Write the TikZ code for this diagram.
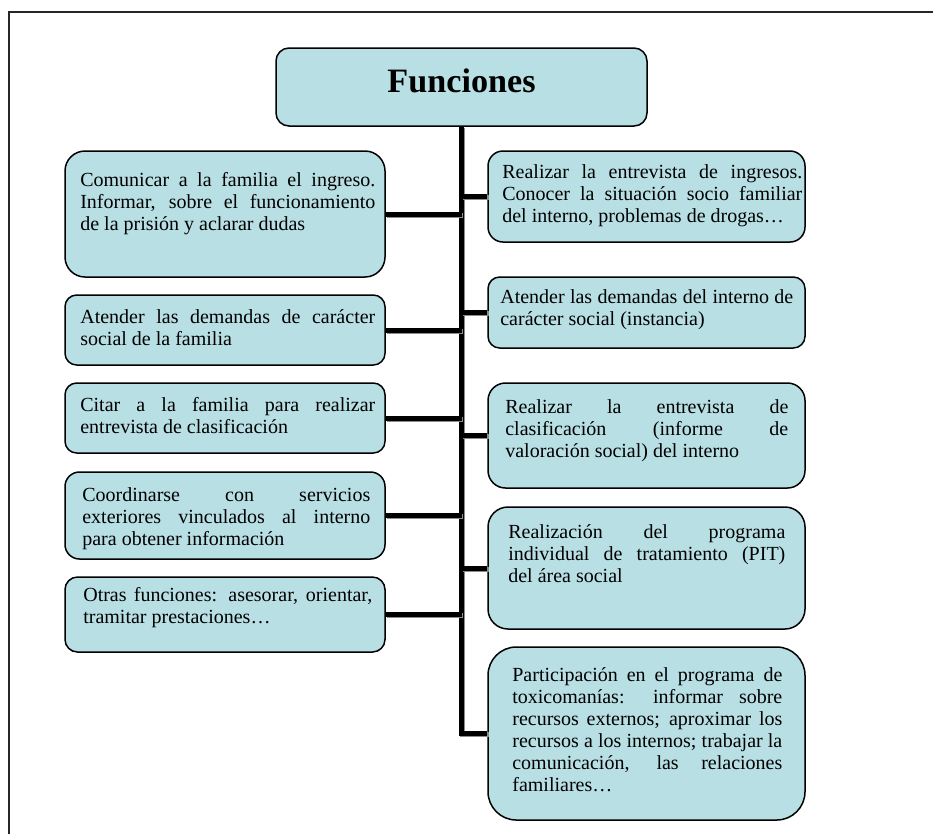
\documentclass[tikz,border=0pt]{standalone}
\usepackage{fontspec}
\setmainfont{Liberation Serif}
\usetikzlibrary{fit}
\definecolor{boxfill}{RGB}{184,223,228}
\newcommand{\nohy}{\hyphenpenalty=10000 \exhyphenpenalty=10000 }
\begin{document}
\begin{tikzpicture}[x=0.6pt,y=-0.6pt,
  box/.style={draw=black, line width=0.9pt, fill=boxfill, inner sep=0pt},
  txt/.style={anchor=north west, inner sep=0pt, align=justify,
    font=\fontsize{12}{13.2}\selectfont},
  conn/.style={line width=3pt, black, line join=miter,
    preaction={draw=black!45, line width=3pt, transform canvas={xshift=0.8pt,yshift=-0.8pt}}}]
\useasboundingbox (0,0) rectangle (933,834);
% outer frame
\draw[line width=0.9pt, black!85] (933,12) -- (9,12) -- (9,834);

% title
\node[box, rounded corners=7.8pt, fit={(276,48) (647,126)}] (title) {};
\node[anchor=base, inner sep=0pt, font=\fontsize{20.5}{24}\selectfont\bfseries] (titletxt) at (461.5,92) {Funciones};

% left boxes
\node[box, rounded corners=12pt, fit={(65,151) (385,277)}] (L1) {};
\node[box, rounded corners=7pt, fit={(65,295) (385,365)}] (L2) {};
\node[box, rounded corners=7pt, fit={(65,383) (385,453)}] (L3) {};
\node[box, rounded corners=8.7pt, fit={(65,472) (385,559)}] (L4) {};
\node[box, rounded corners=7.5pt, fit={(65,577) (385,652)}] (L5) {};
% right boxes
\node[box, rounded corners=9pt, fit={(488,151) (805,242)}] (R1) {};
\node[box, rounded corners=7pt, fit={(488,277) (805,348)}] (R2) {};
\node[box, rounded corners=10.5pt, fit={(488,383) (805,488)}] (R3) {};
\node[box, rounded corners=12pt, fit={(488,507) (805,629)}] (R4) {};
\node[box, rounded corners=17pt, fit={(488,647) (805,820)}] (R5) {};

% connectors
\draw[conn] (title.south) -- (title.south |- R5.west) -- (R5.west);
\foreach \b in {L1,L2,L3,L4,L5}{
  \draw[conn] (\b.east) -- (\b.east -| title.south);
}
\foreach \b in {R1,R2,R3,R4}{
  \draw[conn] (\b.west -| title.south) -- (\b.west);
}

% texts
\node[txt, text width=177pt] (L1t) at (80,170.5) {\nohy\strut Comunicar a la familia el ingreso.\linebreak Informar, sobre el funcionamiento\linebreak de la prisión y aclarar dudas};
\node[txt, text width=177pt] (L2t) at (80,307.5) {\nohy\strut Atender las demandas de carácter\linebreak social de la familia};
\node[txt, text width=177pt] (L3t) at (80,395.5) {\nohy\strut Citar a la familia para realizar\linebreak entrevista de clasificación};
\node[txt, text width=172.8pt] (L4t) at (82,485.5) {\nohy\strut Coordinarse con servicios\linebreak exteriores vinculados al interno\linebreak para obtener información};
\node[txt, text width=173.4pt] (L5t) at (83,585.5) {\nohy\strut Otras funciones: asesorar, orientar,\linebreak tramitar prestaciones…};

\node[txt, text width=180pt] (R1t) at (502,162.5) {\nohy\strut Realizar la entrevista de ingresos.\linebreak Conocer la situación socio familiar\linebreak del interno, problemas de drogas…};
\node[txt, text width=175.8pt] (R2t) at (500,287.5) {\nohy\strut Atender las demandas del interno de\linebreak carácter social (instancia)};
\node[txt, text width=169.8pt] (R3t) at (505,397.5) {\nohy\strut Realizar la entrevista de\linebreak clasificación (informe de\linebreak valoración social) del interno};
\node[txt, text width=166.2pt] (R4t) at (508,522.5) {\nohy\strut Realización del programa\linebreak individual de tratamiento (PIT)\linebreak del área social};
\node[txt, text width=162pt] (R5t) at (512,665.5) {\nohy\strut Participación en el programa de\linebreak toxicomanías: informar sobre\linebreak recursos externos; aproximar los\linebreak recursos a los internos; trabajar la\linebreak comunicación, las relaciones\linebreak familiares…};
\end{tikzpicture}
\end{document}
